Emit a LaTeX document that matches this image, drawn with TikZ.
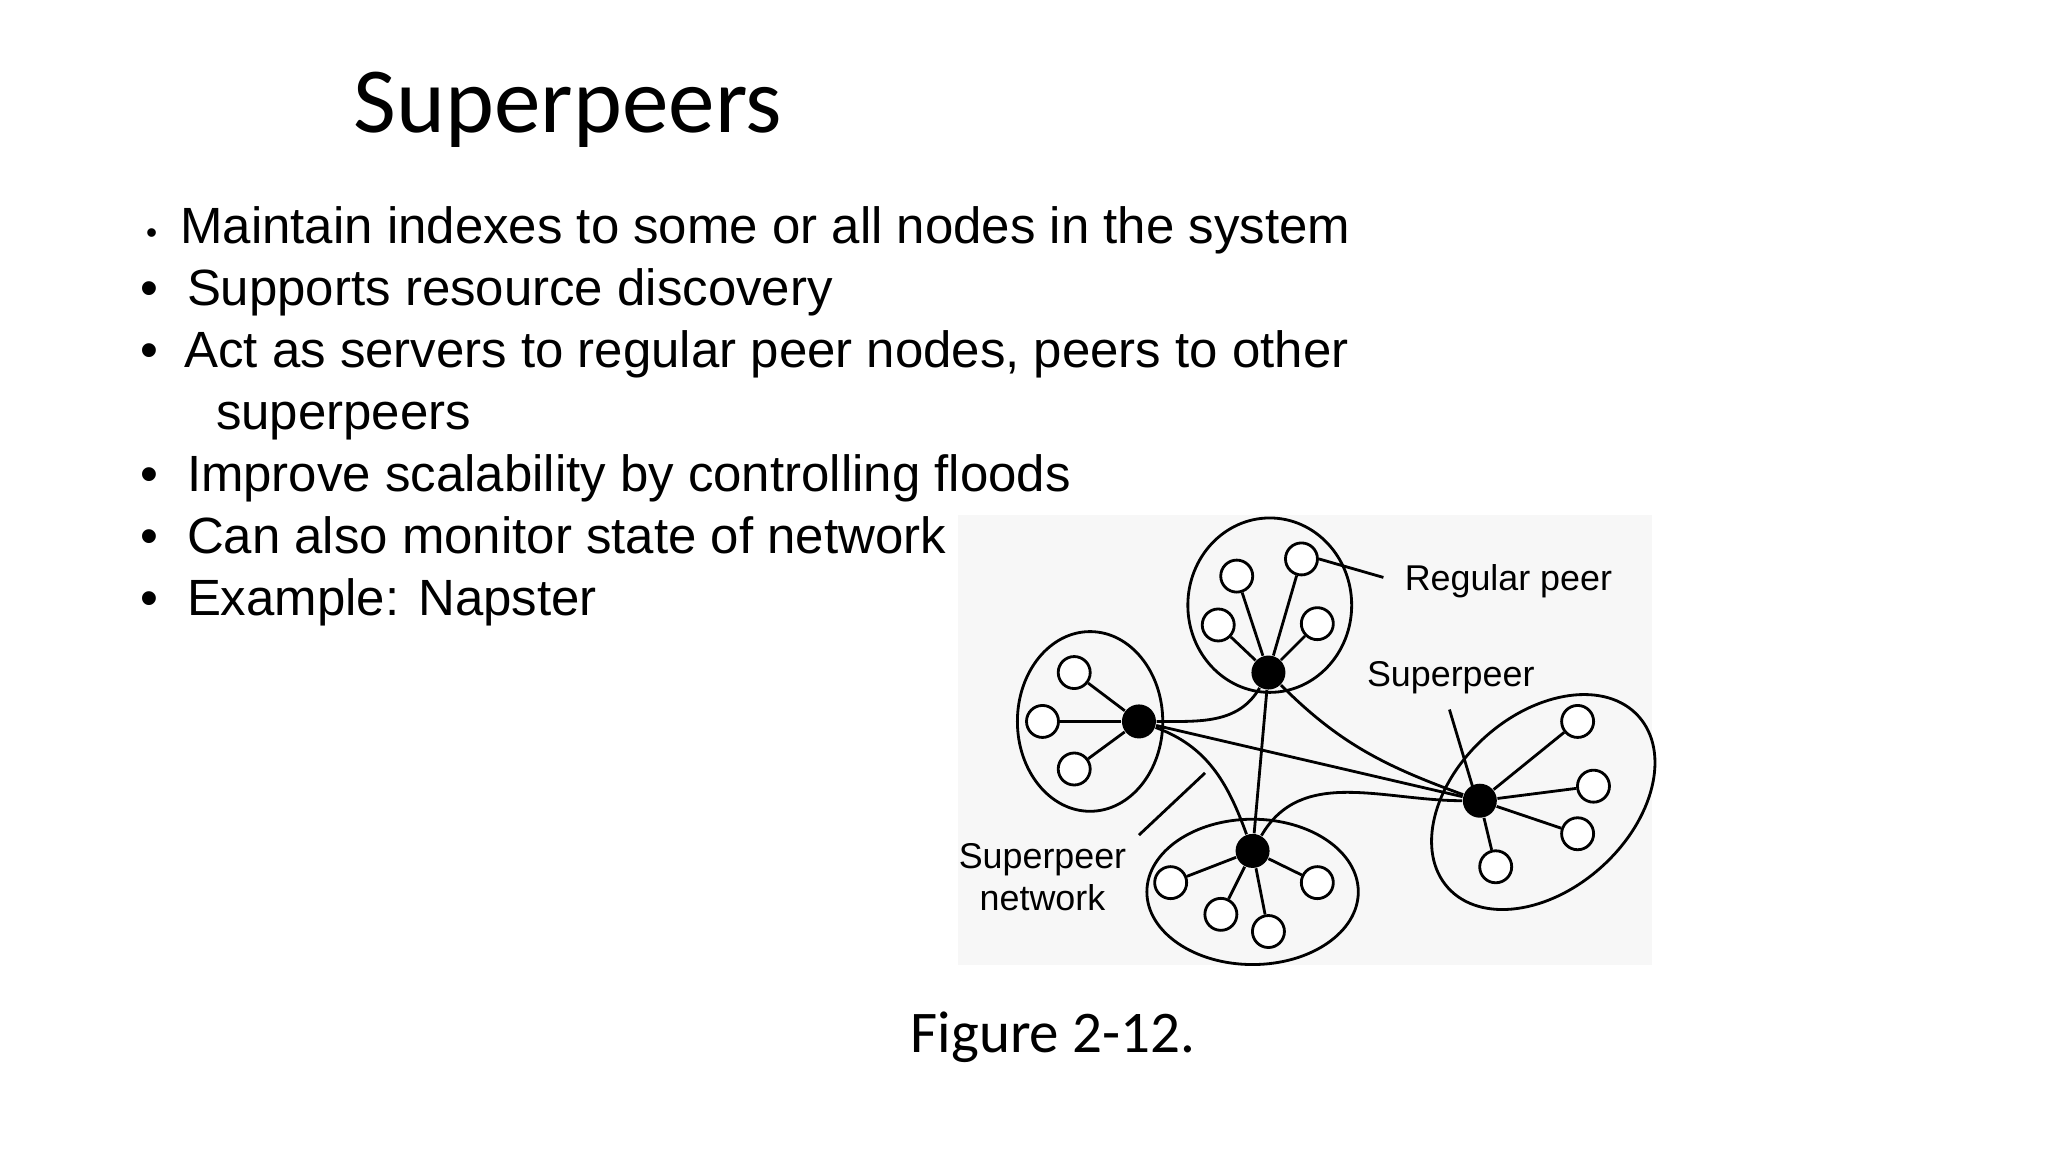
\documentclass[tikz,border=0pt]{standalone}
\usepackage{fontspec}
\setmainfont{Liberation Sans}
\newfontfamily\calib{Carlito}
\begin{document}
\begin{tikzpicture}[x=0.013213cm, y=-0.013213cm,
    peer/.style={circle, draw, thick, fill=white, inner sep=0pt, minimum size=0.32cm},
    super/.style={circle, fill=black, inner sep=0pt, minimum size=0.34cm},
    grp/.style={draw, thick},
    lbl/.style={font=\fontsize{10.2}{12}\selectfont, align=center, inner sep=1pt}]
    \useasboundingbox[fill=white] (0,0) rectangle (1550,872);

    % title and bullets
    \node[font=\calib\fontsize{26.5}{30}\selectfont] (title) at (430,83) {Superpeers};
    \begin{scope}[every node/.style={anchor=base west, inner sep=0pt, font=\fontsize{14.5}{16}\selectfont}]
      \node[font=\fontsize{9}{10}\selectfont] at (110,184) {\textbullet};
      \node at (136,184) {Maintain indexes to some or all nodes in the system};
      \node at (106,231) {\textbullet};
      \node at (141,231) {Supports resource discovery};
      \node at (106,278) {\textbullet};
      \node at (139,278) {Act as servers to regular peer nodes, peers to other};
      \node at (163,325) {superpeers};
      \node at (106,372) {\textbullet};
      \node at (141,372) {Improve scalability by controlling floods};
      \node at (106,419) {\textbullet};
      \node at (141,419) {Can also monitor state of network};
      \node at (106,466) {\textbullet};
      \node at (141,466) {Example: Napster};
    \end{scope}

    % diagram
    \fill[black!3] (725,390) rectangle (1250,730);
    \draw[grp] (961,458) ellipse [x radius=62, y radius=66];
    \draw[grp] (825,546) ellipse [x radius=55, y radius=68];
    \draw[grp] (948,675) ellipse [x radius=80, y radius=55];
    \draw[grp, rotate around={42:(1168,607)}] (1168,607) ellipse [x radius=97, y radius=66];

    \node[super] (st) at (960,509) {};
    \node[super] (sl) at (862,546) {};
    \node[super] (sb) at (948,644) {};
    \node[super] (sr) at (1120,606) {};

    \foreach \n/\p in {t1/{(936,436)}, t2/{(985,423)}, t3/{(922,473)}, t4/{(997,472)}} {
      \node[peer] (\n) at \p {};
      \draw[thick] (st) -- (\n);
    }
    \foreach \n/\p in {l1/{(813,509)}, l2/{(789,546)}, l3/{(813,582)}} {
      \node[peer] (\n) at \p {};
      \draw[thick] (sl) -- (\n);
    }
    \foreach \n/\p in {b1/{(886,668)}, b2/{(924,692)}, b3/{(960,705)}, b4/{(997,668)}} {
      \node[peer] (\n) at \p {};
      \draw[thick] (sb) -- (\n);
    }
    \foreach \n/\p in {r1/{(1194,546)}, r2/{(1206,595)}, r3/{(1194,631)}, r4/{(1132,656)}} {
      \node[peer] (\n) at \p {};
      \draw[thick] (sr) -- (\n);
    }

    % superpeer network
    \draw[thick] (sl) to[out=0, in=-120] (st);
    \draw[thick] (sl) -- (sr);
    \draw[thick] (sl) to[out=-20, in=110] (sb);
    \draw[thick] (st) -- (sb);
    \draw[thick] (st) to[out=-45, in=160] (sr);
    \draw[thick] (sb) to[out=60, in=180] (sr);

    % labels
    \node[lbl, anchor=west] (lreg) at (1060,440) {Regular peer};
    \coordinate (creg) at (1047,437);
    \draw[thick] (t2.east) -- (creg);
    \node[lbl] (lsup) at (1098,513) {Superpeer};
    \coordinate (csup) at (1115,597);
    \draw[thick] (1097,537) -- (csup);
    \node[lbl] (lnet) at (789,664) {Superpeer\\network};
    \coordinate (cnet) at (912,585);
    \draw[thick] (862,632) -- (cnet);

    \node[font=\calib\fontsize{16.8}{20}\selectfont] (cap) at (797,785) {Figure 2-12.};
\end{tikzpicture}
\end{document}
